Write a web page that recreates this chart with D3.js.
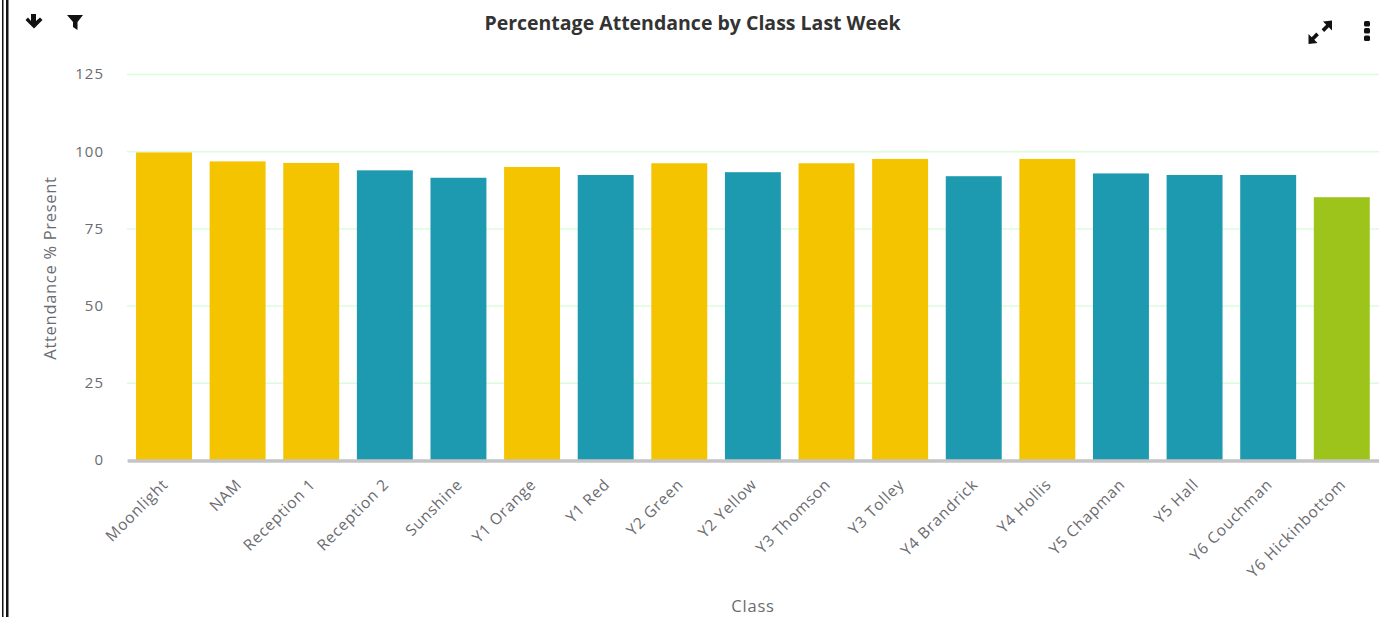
<!DOCTYPE html>
<html>
<head>
<meta charset="utf-8">
<script src="https://cdn.jsdelivr.net/npm/d3@7"></script>
<style>
  html, body { margin: 0; padding: 0; background: #fff; overflow: hidden; }
  text { font-family: "Open Sans", sans-serif; }
</style>
</head>
<body>
<div id="chart"></div>
<script>
let width = 1395, height = 617;

const classes = ['Moonlight', 'NAM', 'Reception 1', 'Reception 2', 'Sunshine', 'Y1 Orange', 'Y1 Red',
  'Y2 Green', 'Y2 Yellow', 'Y3 Thomson', 'Y3 Tolley', 'Y4 Brandrick', 'Y4 Hollis', 'Y5 Chapman',
  'Y5 Hall', 'Y6 Couchman', 'Y6 Hickinbottom'];
const attendance = [99.6, 96.7, 96.2, 93.8, 91.4, 94.9, 92.3, 96.1, 93.2, 96.1, 97.5, 91.9, 97.5, 92.8, 92.3, 92.3, 85.1];
const bands = ['amber', 'amber', 'amber', 'teal', 'teal', 'amber', 'teal', 'amber', 'teal', 'amber', 'amber',
  'teal', 'amber', 'teal', 'teal', 'teal', 'green'];
const yTicks = [0, 25, 50, 75, 100, 125];

const x = d3.scaleBand().domain(classes).range([127.2, 1378.6]).paddingInner(0.24).paddingOuter(0.12);
const y = d3.scaleLinear().domain([0, 125]).range([460, 74]);
const colour = d3.scaleOrdinal().domain(['amber', 'teal', 'green']).range(['#f5c400', '#1e9ab0', '#9dc41a']);

const svg = d3.select('#chart').append('svg')
  .attr('width', width)
  .attr('height', height)
  .style('display', 'block');

// Window border on the left edge
svg.append('rect').attr('x', 2).attr('y', 0).attr('width', 1.5).attr('height', height).attr('fill', '#111');
svg.append('rect').attr('x', 6).attr('y', 0).attr('width', 2.5).attr('height', height).attr('fill', '#111');

// Y axis and gridlines
const yAxis = svg.append('g')
  .attr('transform', 'translate(127,0)')
  .call(d3.axisLeft(y).tickValues(yTicks).tickSize(-1252).tickPadding(23));
yAxis.select('.domain').remove();
yAxis.selectAll('.tick line').attr('stroke', '#dcfbdc').attr('stroke-width', 1.5);
yAxis.selectAll('.tick text')
  .attr('fill', '#6b6b70')
  .style('font-size', '15px')
  .style('letter-spacing', '1px');

// Bars
svg.append('g').selectAll('rect')
  .data(classes)
  .join('rect')
    .attr('x', (d) => x(d))
    .attr('y', (d, i) => y(attendance[i]))
    .attr('width', x.bandwidth())
    .attr('height', (d, i) => y(0) - y(attendance[i]))
    .attr('fill', (d, i) => colour(bands[i]));

// X axis
const xAxis = svg.append('g')
  .attr('transform', 'translate(0,460.5)')
  .call(d3.axisBottom(x).tickSize(0).tickPadding(0));
xAxis.select('.domain').attr('stroke', '#c4c4c4').attr('stroke-width', 3.5);
xAxis.selectAll('.tick text')
  .attr('text-anchor', 'end')
  .attr('dy', 0)
  .attr('transform', 'translate(5,25) rotate(-45)')
  .attr('fill', '#6b6b70')
  .style('font-size', '15.5px')
  .style('letter-spacing', '0.8px');

// Titles
svg.append('text')
  .attr('x', 692.5).attr('y', 29.5)
  .attr('text-anchor', 'middle')
  .attr('fill', '#333')
  .style('font-size', '19.5px')
  .style('font-weight', 700)
  .text('Percentage Attendance by Class Last Week');
svg.append('text')
  .attr('x', 753).attr('y', 612)
  .attr('text-anchor', 'middle')
  .attr('fill', '#6b6b70')
  .style('font-size', '16.5px')
  .style('letter-spacing', '0.8px')
  .text('Class');
svg.append('text')
  .attr('transform', 'translate(56,268) rotate(-90)')
  .attr('text-anchor', 'middle')
  .attr('fill', '#6b6b70')
  .style('font-size', '16.5px')
  .style('letter-spacing', '0.7px')
  .text('Attendance % Present');

// Toolbar icons
const icons = svg.append('g').attr('fill', '#111');
icons.append('path').attr('d', 'M31 14h5v7l4-3.5 2.5 2.5-8.5 8.5-8.5-8.5 2.5-2.5 3 3.5z');
icons.append('path').attr('d', 'M67 15h16l-5.5 7v8l-4.5-3v-5z');
icons.append('path')
  .attr('d', 'M1332 20.5v10l-3.2-3.2-4.6 4.6-2.6-2.6 4.6-4.6-3.2-3.2z M1308.5 44v-10l3.2 3.2 4.6-4.6 2.6 2.6-4.6 4.6 3.2 3.2z');
icons.selectAll('rect.dot')
  .data([21, 28, 35.5])
  .join('rect')
    .attr('class', 'dot')
    .attr('x', 1364)
    .attr('y', (d) => d)
    .attr('width', 6)
    .attr('height', 5.5)
    .attr('rx', 1.5);
</script>
</body>
</html>
